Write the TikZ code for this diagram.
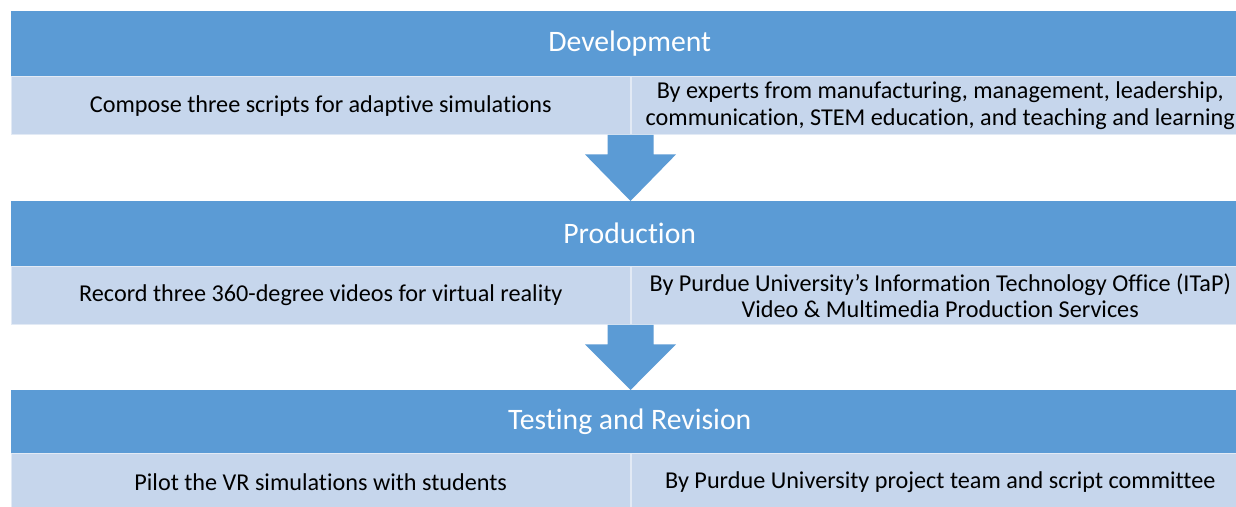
\documentclass[tikz,border=0pt]{standalone}
\usepackage{fontspec}
\setmainfont{Carlito}[Ligatures=NoCommon]
\usetikzlibrary{positioning}
\usetikzlibrary{calc}
\definecolor{headblue}{HTML}{5B9BD5}
\definecolor{cellblue}{HTML}{C6D6EC}
\tikzset{x=1pt, y=-1pt, % One unit is one pixel of the layout
phase/.style={ % Sets the properties for each phase header
fill=headblue,
text=white,
minimum width=1237pt,
inner sep=0pt,
font=\fontsize{29.7}{34}\selectfont},
cell/.style={ % Sets the properties for each table cell
fill=cellblue,
draw=cellblue!50!white,
line width=0.5pt,
minimum width=619pt,
minimum height=58pt,
inner sep=0pt,
align=center,
font=\fontsize{24.2}{26.5}\selectfont}}
% Block arrow from #1 (top of shaft) to #2 (tip)
\newcommand{\flowdown}[2]{%
\fill[headblue] ([xshift=-23pt]#1) -- ([xshift=23pt]#1)
  -- ([xshift=23pt,yshift=-19.5pt]#1) -- ([xshift=45.5pt,yshift=-19.5pt]#1)
  -- (#2) -- ([xshift=-45.5pt,yshift=-19.5pt]#1)
  -- ([xshift=-23pt,yshift=-19.5pt]#1) -- cycle;}

\begin{document}
\begin{tikzpicture}
\useasboundingbox (0,0) rectangle (1236,506);
\fill[white] (0,0) rectangle (1236,506);
% Development
\node[phase, minimum height=65pt, anchor=north west] (dev) at (11,11) {Development};
\node[cell, anchor=north west] (devl) at (dev.south west) {Compose three scripts for adaptive simulations};
\node[cell, anchor=north west] (devr) at (devl.north east) {By experts from manufacturing, management, leadership,\\ communication, STEM education, and teaching and learning};
% Production
\node[phase, minimum height=65pt, anchor=north west] (prod) at (11,201) {Production};
\node[cell, anchor=north west] (prodl) at (prod.south west) {Record three 360-degree videos for virtual reality};
\node[cell, anchor=north west] (prodr) at (prodl.north east) {By Purdue University’s Information Technology Office (ITaP)\\ Video \& Multimedia Production Services};
% Testing and Revision
\node[phase, minimum height=63pt, anchor=north west] (test) at (11,390) {Testing and Revision};
\node[cell, anchor=north west] (testl) at (test.south west) {Pilot the VR simulations with students};
\node[cell, anchor=north west] (testr) at (testl.north east) {By Purdue University project team and script committee};
% Arrows between the phases
\coordinate (a1) at (devl.south east);
\coordinate (b1) at (prod.north -| a1);
\coordinate (a2) at (prodl.south east);
\coordinate (b2) at (test.north -| a2);
\flowdown{a1}{b1}
\flowdown{a2}{b2}
\end{tikzpicture}
\end{document}
